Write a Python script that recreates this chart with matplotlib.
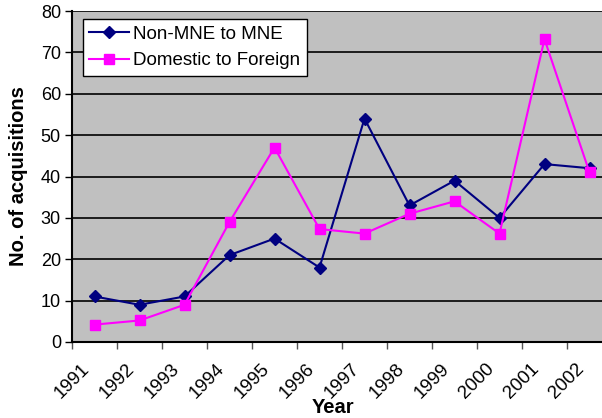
import matplotlib.pyplot as plt
import numpy as np

plt.rcParams['font.family'] = ['Liberation Sans', 'DejaVu Sans']

years = ['1991', '1992', '1993', '1994', '1995', '1996',
         '1997', '1998', '1999', '2000', '2001', '2002']
non_mne_to_mne = [11, 9, 11, 21, 25, 18, 54, 33, 39, 30, 43, 42]
domestic_to_foreign = [4.2, 5.2, 9, 29, 47, 27.3, 26.2, 31, 34, 26.2, 73.2, 41]

W, H = 602, 418
fig = plt.figure(figsize=(W / 100, H / 100), dpi=100)
# plot area runs past the right edge of the picture, as in the original
ax = fig.add_axes([72 / W, 1 - 342 / H, 540 / W, 331 / H])
ax.set_facecolor('#c0c0c0')

x = np.arange(len(years)) + 0.5
ax.plot(x, non_mne_to_mne, color='#000080', marker='D', markersize=6,
        linewidth=1.5, label='Non-MNE to MNE', zorder=3)
ax.plot(x, domestic_to_foreign, color='#ff00ff', marker='s', markersize=7,
        linewidth=1.5, label='Domestic to Foreign', zorder=3)

ax.set_xlim(0, len(years))
ax.set_ylim(0, 80)
ax.set_yticks(range(0, 81, 10))
# year labels sit centred under the tick marks, tilted 45 degrees
ax.set_xticks(np.arange(len(years)))
ax.set_xticklabels(years, rotation=45, ha='center', va='top', fontsize=13.5)
ax.tick_params(axis='x', length=5, width=1, color='#555555', pad=8)
ax.tick_params(axis='y', length=5, width=1, labelsize=13, pad=3)

ax.yaxis.grid(True, color='black', linewidth=1.2)
ax.set_axisbelow(True)
for s in ['top', 'right']:
    ax.spines[s].set_visible(False)
ax.spines['left'].set_linewidth(1.5)
ax.spines['bottom'].set_linewidth(1.5)

ax.set_xlabel('Year', fontsize=14.5, fontweight='bold')
ax.xaxis.set_label_coords(0.484, -0.168)
ax.set_ylabel('No. of acquisitions', fontsize=14.5, fontweight='bold')
ax.yaxis.set_label_coords(-0.082, 0.5)

leg = ax.legend(loc='upper left', bbox_to_anchor=(0.02, 0.975), fontsize=13.5,
                frameon=True, fancybox=False, framealpha=1, edgecolor='black',
                borderpad=0.35, handlelength=2.1, handletextpad=0.25,
                borderaxespad=0, labelspacing=0.5)
leg.get_frame().set_linewidth(1)

fig.savefig('out.png', dpi=100)
plt.close()
